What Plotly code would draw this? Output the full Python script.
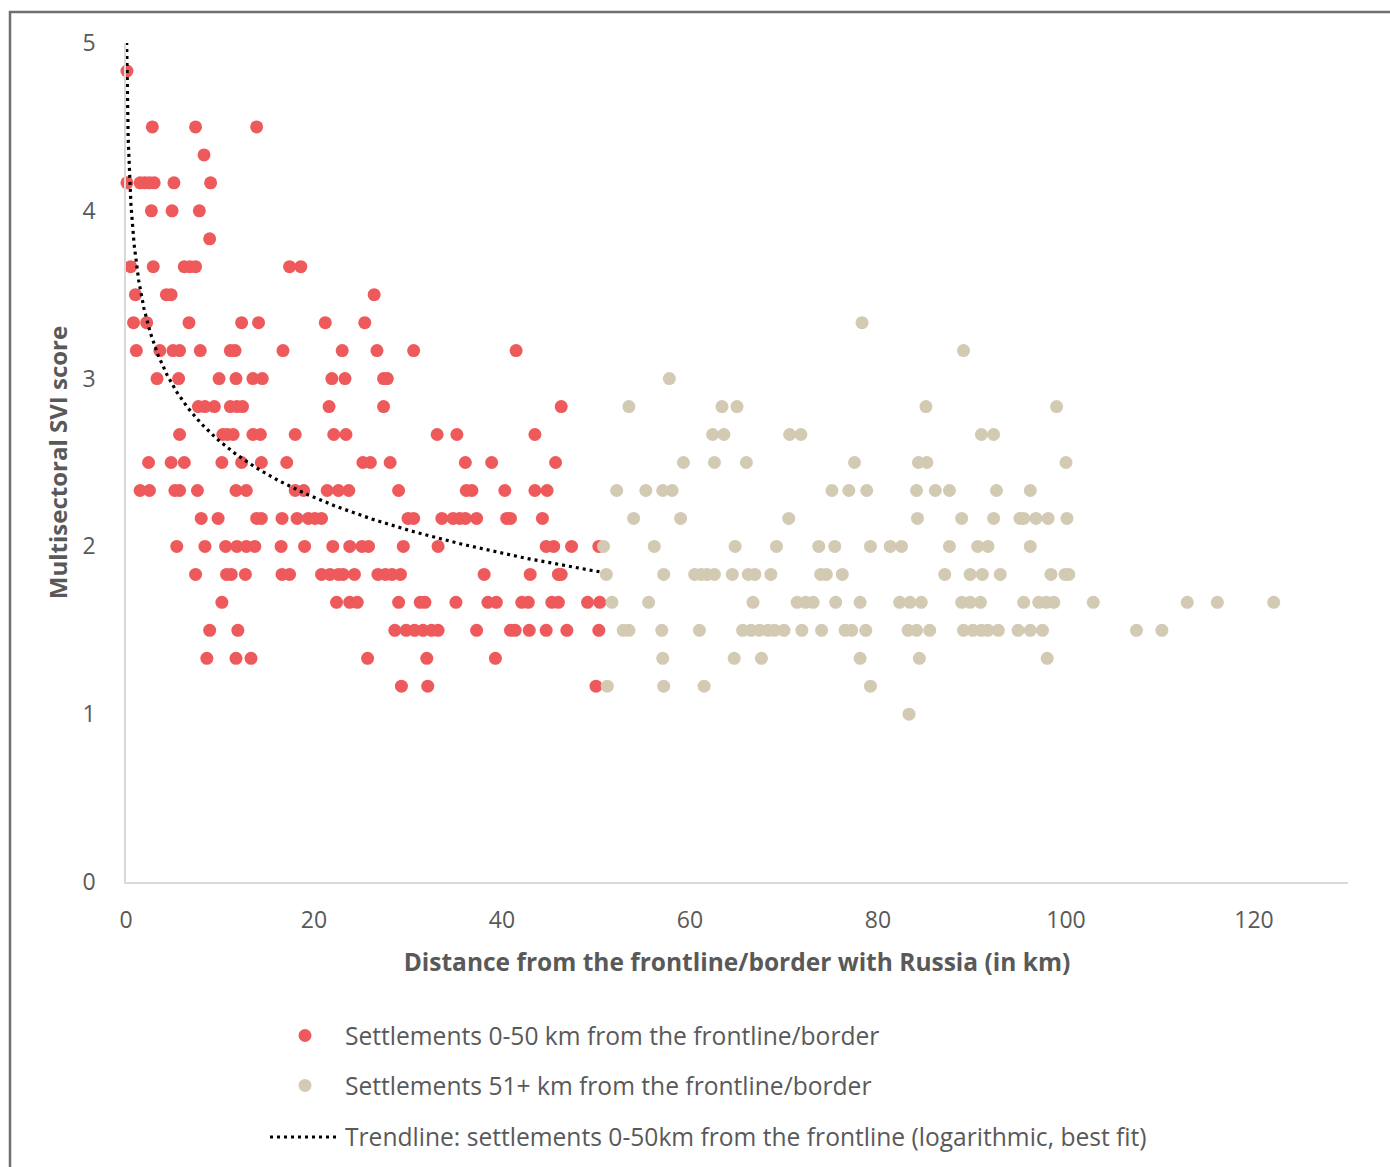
import numpy as np
import plotly.graph_objects as go

# SVI score levels (rows of the scatter), top to bottom
score_levels = [4.833, 4.5, 4.333, 4.167, 4.0, 3.833, 3.667, 3.5, 3.333, 3.167,
                3.0, 2.833, 2.667, 2.5, 2.333, 2.167, 2.0, 1.833, 1.667, 1.5,
                1.333, 1.167, 1.0]

# Distances (km) of settlements 0-50 km from the frontline, one list per score level
near_km_by_level = [
    [0.1],
    [2.8, 7.4, 13.9],
    [8.3],
    [0.1, 1.5, 2.0, 2.5, 3.0, 5.1, 9.0],
    [2.7, 4.9, 7.8],
    [8.9],
    [0.5, 2.9, 6.2, 6.8, 7.4, 17.4, 18.6],
    [1.0, 4.3, 4.8, 26.4],
    [0.8, 2.2, 6.7, 12.3, 14.1, 21.2, 25.4],
    [1.1, 3.6, 5.0, 5.7, 7.9, 11.1, 11.6, 16.7, 23.0, 26.7, 30.6, 41.5],
    [3.3, 5.6, 9.9, 11.7, 13.5, 14.5, 21.9, 23.3, 27.4, 27.8],
    [7.7, 8.4, 9.4, 11.1, 11.8, 12.4, 21.6, 27.4, 46.3],
    [5.7, 10.3, 10.8, 11.4, 13.5, 14.3, 18.0, 22.1, 23.4, 33.1, 35.2, 43.5],
    [2.4, 4.8, 6.2, 10.2, 12.3, 14.4, 17.1, 25.2, 26.0, 28.1, 36.1, 38.9, 45.7],
    [1.5, 2.5, 5.2, 5.7, 7.6, 11.7, 12.8, 18.0, 18.9, 21.4, 22.6, 23.7, 29.0,
     36.2, 36.8, 40.3, 43.5, 44.8],
    [8.0, 9.8, 13.9, 14.4, 16.6, 18.2, 19.4, 20.1, 20.8, 30.0, 30.6, 33.6, 34.8,
     35.5, 36.1, 37.3, 40.5, 40.9, 44.3],
    [5.4, 8.4, 10.6, 11.8, 12.8, 13.7, 16.5, 19.0, 22.0, 23.8, 25.1, 25.8, 29.5,
     33.2, 44.7, 45.5, 47.4, 50.3],
    [7.4, 10.7, 11.2, 12.7, 16.6, 17.4, 20.8, 21.7, 22.6, 23.1, 24.3, 26.8, 27.6,
     28.3, 29.2, 38.1, 43.0, 46.0, 46.3],
    [10.2, 22.4, 23.8, 24.6, 29.0, 31.3, 31.8, 35.1, 38.5, 39.4, 42.1, 42.8, 45.3,
     46.0, 49.1, 50.4],
    [8.9, 11.9, 28.6, 29.8, 30.7, 31.6, 32.5, 33.2, 37.3, 40.9, 41.4, 42.9, 44.7,
     46.9, 50.3],
    [8.6, 11.7, 13.3, 25.7, 32.0, 39.3],
    [29.3, 32.1, 50.0],
    [],
]

# Distances (km) of settlements 51+ km from the frontline, one list per score level
far_km_by_level = [
    [],
    [],
    [],
    [],
    [],
    [],
    [],
    [],
    [78.3],
    [89.1],
    [57.8],
    [53.5, 63.4, 65.0, 85.1, 99.0],
    [62.4, 63.6, 70.6, 71.8, 91.0, 92.3],
    [59.3, 62.6, 66.0, 77.5, 84.3, 85.2, 100.0],
    [52.2, 55.3, 57.1, 58.1, 75.1, 76.9, 78.8, 84.1, 86.1, 87.6, 92.6, 96.2],
    [54.0, 59.0, 70.5, 84.2, 88.9, 92.3, 95.1, 95.5, 96.8, 98.1, 100.1],
    [50.8, 56.2, 64.8, 69.2, 73.7, 75.4, 79.2, 81.3, 82.5, 87.6, 90.6, 91.7, 96.2],
    [51.1, 57.2, 60.5, 61.2, 61.8, 62.6, 64.5, 66.2, 66.9, 68.6, 73.9, 74.5, 76.2,
     87.1, 89.8, 91.1, 93.0, 98.4, 99.9, 100.3],
    [51.7, 55.6, 66.7, 71.4, 72.3, 73.1, 75.5, 78.1, 82.3, 83.4, 84.6, 88.9, 89.8,
     90.9, 95.5, 97.1, 97.9, 98.7, 102.9, 112.9, 116.1, 122.1],
    [52.9, 53.5, 57.0, 61.0, 65.6, 66.5, 67.4, 68.3, 69.0, 70.0, 71.9, 74.0, 76.5,
     77.2, 78.7, 83.2, 84.1, 85.5, 89.1, 90.1, 91.0, 91.7, 92.8, 94.9, 96.2, 97.5,
     107.5, 110.2],
    [57.1, 64.7, 67.6, 78.1, 84.4, 98.0],
    [51.2, 57.2, 61.5, 79.2],
    [83.3],
]

# Logarithmic trendline of the 0-50 km group: y = intercept + slope * ln(x)
trend_intercept = 3.73
trend_slope = -0.48
trend_x_range = [0.07, 50.4]

x_ticks = [0, 20, 40, 60, 80, 100, 120]
y_ticks = [0, 1, 2, 3, 4, 5]

series_names = [
    "Settlements 0-50 km from the frontline/border",
    "Settlements 51+ km from the frontline/border",
    "Trendline: settlements 0-50km from the frontline (logarithmic, best fit)",
]

RED = "#EE5A5B"
BEIGE = "#D3CAB3"
TEXT = "#595959"
FONT = "Open Sans"
LEGEND_SIZE = 24.6


def flatten(rows):
    xs, ys = [], []
    for score, kms in zip(score_levels, rows):
        xs.extend(kms)
        ys.extend([score] * len(kms))
    return np.array(xs), np.array(ys)


near_x, near_y = flatten(near_km_by_level)
far_x, far_y = flatten(far_km_by_level)

trend_x = np.geomspace(trend_x_range[0], trend_x_range[1], 400)
trend_y = trend_intercept + trend_slope * np.log(trend_x)

fig = go.Figure()

fig.add_trace(go.Scatter(
    x=near_x, y=near_y, mode="markers", name=series_names[0],
    legendgroup="g1",
    marker=dict(color=RED, size=13, line=dict(width=0)),
    cliponaxis=False,
))
fig.add_trace(go.Scatter(
    x=far_x, y=far_y, mode="markers", name=series_names[1],
    legendgroup="g2",
    marker=dict(color=BEIGE, size=13, line=dict(width=0)),
    cliponaxis=False,
))
TREND_DASH = "3px,4px"
fig.add_trace(go.Scatter(
    x=trend_x, y=trend_y, mode="lines", name=series_names[2],
    showlegend=False,
    line=dict(color="black", width=3.2, dash=TREND_DASH),
    cliponaxis=True,
))

W, H = 1390, 1167
L, R, T, B = 126, 42, 43, 285
pw, ph = W - L - R, H - T - B


def px_x(px):
    return (px - L) / pw


def px_y(py):
    return (H - B - py) / ph


# Outer frame of the chart card
fig.add_shape(type="rect", xref="paper", yref="paper",
              x0=px_x(10), x1=px_x(1420), y0=px_y(1200), y1=px_y(12),
              line=dict(color="#707070", width=2.5), fillcolor="rgba(0,0,0,0)",
              layer="below")

# Trendline legend entry: long dotted key followed by its label
fig.add_shape(type="line", xref="paper", yref="paper",
              x0=px_x(270), x1=px_x(338), y0=px_y(1137), y1=px_y(1137),
              line=dict(color="black", width=3, dash=TREND_DASH))
fig.add_annotation(xref="paper", yref="paper", x=px_x(343), y=px_y(1136),
                   xanchor="left", yanchor="middle", showarrow=False,
                   text=series_names[2],
                   font=dict(family=FONT, size=LEGEND_SIZE, color=TEXT))

fig.update_layout(
    width=W, height=H,
    margin=dict(l=L, r=R, t=T, b=B),
    paper_bgcolor="white", plot_bgcolor="white",
    font=dict(family=FONT, color=TEXT, size=22),
    showlegend=True,
    legend=dict(
        orientation="v", x=px_x(265), xanchor="left",
        y=px_y(1013), yanchor="top",
        font=dict(family=FONT, size=LEGEND_SIZE, color=TEXT),
        tracegroupgap=15, itemsizing="trace", itemwidth=70,
        bgcolor="rgba(0,0,0,0)",
    ),
    xaxis=dict(
        range=[0, 130], tickvals=x_ticks, showgrid=False, zeroline=False,
        showline=True, linecolor="#D9D9D9", linewidth=1.5,
        ticks="", ticklabelstandoff=17,
        tickfont=dict(size=23, color=TEXT),
        title=dict(text="<b>Distance from the frontline/border with Russia (in km)</b>",
                   font=dict(size=24.5, color=TEXT), standoff=20),
    ),
    yaxis=dict(
        range=[0, 5], tickvals=y_ticks, showgrid=False, zeroline=False,
        showline=True, linecolor="#D9D9D9", linewidth=1.5,
        ticks="", ticklabelstandoff=24,
        tickfont=dict(size=23, color=TEXT),
        title=dict(text="<b>Multisectoral SVI score</b>",
                   font=dict(size=24, color=TEXT), standoff=8),
    ),
)

fig.write_html("out.html")
